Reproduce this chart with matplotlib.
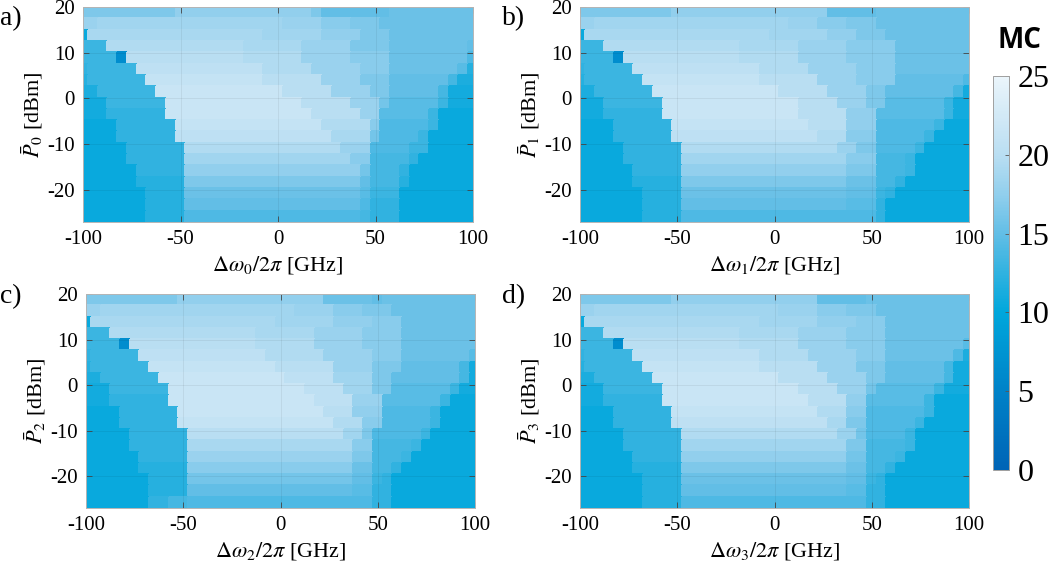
import numpy as np
import matplotlib
matplotlib.use("Agg")
import matplotlib.pyplot as plt
from matplotlib.colors import LinearSegmentedColormap

plt.rcParams['font.family'] = ['Liberation Serif', 'DejaVu Serif']
plt.rcParams['mathtext.fontset'] = 'stix'
plt.rcParams['axes.unicode_minus'] = False

# detuning (GHz) cell centres and power rows (top row = highest power)
detuning = np.arange(-100, 101, 5)
p_top, p_bottom = 20, -27
n_rows = 19

# each row: (start column, MC value) runs, top row first
mc_a = [
    [(0, 16.5), (10, 17.5), (24, 16.5), (25, 15), (32, 15.5)],
    [(0, 18), (2, 18.5), (21, 18), (25, 17), (28, 16.5), (31, 15.5)],
    [(0, 10.5), (1, 19), (19, 18.5), (25, 17.5), (29, 16.5), (32, 15.5)],
    [(0, 13), (3, 19.5), (17, 19), (23, 18), (28, 16.5), (32, 15.5), (40, 15)],
    [(0, 13), (4, 6.5), (5, 20), (17, 19.5), (23, 18), (28, 17), (32, 15.5), (40, 14)],
    [(0, 12.5), (1, 13), (6, 20.5), (19, 19.5), (24, 18), (29, 17), (32, 15.5), (39, 14.5), (40, 12)],
    [(0, 12), (1, 13), (7, 21), (19, 20), (25, 18), (29, 16.5), (32, 15), (38, 13.5), (39, 11.5)],
    [(0, 11.5), (2, 13), (8, 21.5), (21, 20), (26, 18), (30, 16.5), (32, 15), (37, 13.5), (38, 11)],
    [(0, 11), (3, 13), (9, 21.5), (23, 20), (28, 18), (31, 16), (32, 14.5), (37, 13), (38, 11)],
    [(0, 11), (3, 12.5), (9, 21.5), (24, 20), (29, 18), (31, 14.5), (36, 13), (37, 10.5)],
    [(0, 10.5), (4, 12.5), (10, 21), (25, 19.5), (30, 17), (31, 14), (36, 13), (37, 10.5)],
    [(0, 10.5), (4, 12.5), (10, 20.5), (26, 19), (30, 16), (31, 14), (35, 13), (36, 10.5)],
    [(0, 10.5), (5, 12.5), (11, 19.5), (27, 18), (30, 14), (34, 13), (36, 10.5)],
    [(0, 10.5), (5, 12.5), (11, 18.5), (28, 17), (30, 13.5), (34, 12.5), (35, 10.5)],
    [(0, 10.5), (6, 12.5), (11, 17.5), (29, 16), (30, 13.5), (33, 12.5), (34, 10.5)],
    [(0, 10.5), (6, 12), (11, 16.5), (29, 15), (30, 13.5), (33, 12), (34, 10.5)],
    [(0, 10.5), (7, 12), (11, 15.5), (29, 14.5), (30, 13), (33, 10.5)],
    [(0, 10.5), (7, 12), (11, 15), (29, 14), (30, 12.5), (33, 10.5)],
    [(0, 10.5), (7, 12), (11, 14), (29, 13.5), (30, 12.5), (33, 10.5)],
]

mc_b = [
    [(0, 16.5), (10, 17.5), (26, 15), (31, 15.5)],
    [(0, 18), (2, 18.5), (22, 18), (25, 17), (28, 16.5), (31, 15.5)],
    [(0, 10.5), (1, 19), (20, 18.5), (26, 17.5), (29, 16.5), (32, 15.5)],
    [(0, 13), (3, 19.5), (17, 19), (23, 18), (28, 17), (33, 15.5)],
    [(0, 13), (4, 6.5), (5, 20), (17, 19.5), (23, 18), (28, 17), (33, 15.5)],
    [(0, 12.5), (1, 13), (6, 20.5), (19, 19.5), (24, 18), (29, 17), (33, 15.5)],
    [(0, 12), (1, 13), (7, 21), (19, 20), (25, 18), (29, 17), (33, 15), (40, 14)],
    [(0, 11.5), (2, 13), (8, 21.5), (21, 20), (26, 18), (30, 16.5), (32, 15), (39, 13.5), (40, 11)],
    [(0, 11), (3, 13), (9, 21.5), (23, 20), (27, 18), (30, 16.5), (32, 14.5), (38, 13), (39, 11)],
    [(0, 11), (3, 12.5), (9, 21.5), (23, 20), (28, 17.5), (31, 14.5), (38, 13), (39, 11)],
    [(0, 10.5), (4, 12.5), (10, 21), (24, 20), (28, 17.5), (31, 14), (37, 13), (38, 10.5)],
    [(0, 10.5), (4, 12.5), (10, 20.5), (25, 19.5), (28, 17), (31, 14), (36, 13), (37, 10.5)],
    [(0, 10.5), (5, 12.5), (11, 19.5), (27, 18), (29, 16.5), (31, 14), (35, 13), (36, 10.5)],
    [(0, 10.5), (5, 12.5), (11, 18.5), (28, 17), (31, 13.5), (34, 13), (35, 10.5)],
    [(0, 10.5), (6, 12.5), (11, 17.5), (28, 16.5), (31, 13.5), (34, 13), (35, 10.5)],
    [(0, 10.5), (6, 12), (11, 16.5), (28, 15.5), (31, 13.5), (33, 12.5), (34, 10.5)],
    [(0, 10.5), (7, 12), (11, 15.5), (28, 15), (31, 13), (32, 12.5), (33, 10.5)],
    [(0, 10.5), (7, 12), (11, 15), (28, 14.5), (31, 12.5), (32, 10.5)],
    [(0, 10.5), (7, 12), (11, 14), (28, 14), (31, 12.5), (32, 10.5)],
]

mc_c = [
    [(0, 16.5), (10, 17.5), (25, 15.5), (30, 15), (31, 15.5)],
    [(0, 18), (2, 18.5), (22, 18), (26, 17), (29, 16.5), (32, 15.5)],
    [(0, 10.5), (1, 19), (20, 18.5), (26, 17.5), (30, 17), (33, 15.5)],
    [(0, 13), (3, 19.5), (18, 19), (24, 18), (29, 17), (33, 15.5)],
    [(0, 13), (4, 6.5), (5, 20), (18, 19.5), (24, 18), (29, 17), (33, 15.5)],
    [(0, 12.5), (1, 13), (6, 20.5), (19, 19.5), (25, 18), (30, 17), (33, 15.5), (40, 14.5)],
    [(0, 12), (1, 13), (7, 21), (20, 20), (26, 18), (30, 16.5), (33, 15), (39, 13.5), (40, 11)],
    [(0, 11.5), (2, 13), (8, 21.5), (21, 20.5), (26, 18.5), (30, 16.5), (32, 15), (39, 13.5), (40, 11)],
    [(0, 11), (3, 13), (9, 21.5), (23, 20.5), (27, 18.5), (30, 16.5), (32, 14.5), (38, 13), (39, 11)],
    [(0, 11), (3, 12.5), (9, 21.5), (24, 20.5), (28, 18), (31, 14.5), (37, 13), (38, 10.5)],
    [(0, 10.5), (4, 12.5), (10, 21.5), (25, 20), (28, 17.5), (31, 14), (36, 13), (37, 10.5)],
    [(0, 10.5), (4, 12.5), (10, 21), (26, 19.5), (29, 17), (31, 14), (36, 13), (37, 10.5)],
    [(0, 10.5), (5, 12.5), (11, 20), (27, 18.5), (29, 16.5), (30, 14), (35, 13), (36, 10.5)],
    [(0, 10.5), (5, 12.5), (11, 19), (28, 17), (30, 13.5), (34, 13), (35, 10.5)],
    [(0, 10.5), (6, 12.5), (11, 18), (28, 16.5), (30, 13.5), (33, 13), (34, 10.5)],
    [(0, 10.5), (6, 12), (11, 17), (28, 15.5), (30, 13.5), (32, 12.5), (33, 10.5)],
    [(0, 10.5), (7, 12), (11, 16), (28, 15), (30, 13), (31, 12.5), (32, 10.5)],
    [(0, 10.5), (7, 12), (11, 15), (28, 14.5), (30, 12.5), (32, 10.5)],
    [(0, 10.5), (7, 12.5), (9, 13.5), (11, 14), (28, 14), (30, 12.5), (32, 10.5)],
]

mc_d = [
    [(0, 16.5), (10, 17.5), (25, 15), (30, 15.5)],
    [(0, 18), (2, 18.5), (21, 18), (25, 17), (28, 16.5), (31, 15.5)],
    [(0, 10.5), (1, 19), (19, 18.5), (25, 17.5), (29, 17), (32, 15.5)],
    [(0, 13), (3, 19.5), (17, 19), (23, 18), (28, 17), (32, 15.5)],
    [(0, 13), (4, 6.5), (5, 20), (17, 19.5), (23, 18), (28, 17), (32, 15.5), (40, 14.5)],
    [(0, 12.5), (1, 13), (6, 20.5), (19, 19.5), (24, 18), (29, 17), (32, 15.5), (39, 14), (40, 11.5)],
    [(0, 12), (1, 13), (7, 21), (19, 20), (25, 18), (29, 16.5), (32, 15), (38, 13.5), (39, 11)],
    [(0, 11.5), (2, 13), (8, 21.5), (21, 20), (26, 18), (30, 16.5), (32, 15), (38, 13.5), (39, 11)],
    [(0, 11), (3, 13), (9, 21.5), (23, 20), (27, 18), (30, 16), (31, 14.5), (37, 13), (38, 11)],
    [(0, 11), (3, 12.5), (9, 21.5), (24, 20), (28, 17.5), (30, 14.5), (36, 13), (37, 10.5)],
    [(0, 10.5), (4, 12.5), (10, 21), (25, 19.5), (28, 17), (30, 14), (36, 13), (37, 10.5)],
    [(0, 10.5), (4, 12.5), (10, 20.5), (26, 19), (28, 16.5), (30, 14), (35, 13), (36, 10.5)],
    [(0, 10.5), (5, 12.5), (11, 19.5), (27, 18), (29, 16), (30, 14), (34, 13), (35, 10.5)],
    [(0, 10.5), (5, 12.5), (11, 18.5), (28, 16.5), (30, 13.5), (34, 13), (35, 10.5)],
    [(0, 10.5), (6, 12.5), (11, 17.5), (28, 16), (30, 13.5), (33, 13), (34, 10.5)],
    [(0, 10.5), (6, 12), (11, 16.5), (28, 15.5), (30, 13.5), (32, 12.5), (33, 10.5)],
    [(0, 10.5), (7, 12), (11, 15.5), (28, 15), (30, 13), (31, 12.5), (32, 10.5)],
    [(0, 10.5), (7, 12), (11, 15), (28, 14.5), (30, 12.5), (32, 10.5)],
    [(0, 10.5), (7, 12), (11, 14), (28, 14), (30, 12.5), (32, 10.5)],
]

panel_tags = ['a)', 'b)', 'c)', 'd)']
panel_idx = ['0', '1', '2', '3']


def expand(runs):
    # turn (start column, value) runs into a full grid
    grid = np.zeros((len(runs), len(detuning)))
    for i, row in enumerate(runs):
        for k, (start, val) in enumerate(row):
            stop = row[k + 1][0] if k + 1 < len(row) else len(detuning)
            grid[i, start:stop] = val
    return grid


# colour scale (value -> rgb)
cb_stops = [0, 5, 10, 12.5, 15, 17.5, 20, 22.5, 25]
cb_rgb = [(0, 100, 182), (0, 130, 200), (0, 167, 220), (48, 178, 224),
          (98, 190, 230), (145, 207, 237), (185, 222, 242), (210, 233, 246),
          (235, 245, 251)]
cmap = LinearSegmentedColormap.from_list(
    'mc', [(s / 25, tuple(c / 255 for c in rgb)) for s, rgb in zip(cb_stops, cb_rgb)])

W, H = 1052, 564
fig = plt.figure(figsize=(W / 100, H / 100), dpi=100)

# axes boxes in pixels: left, top, right, bottom
boxes = [(83, 7, 473, 222), (580, 7, 969, 222),
         (86, 294, 475, 508), (580, 294, 969, 508)]
# panel tag positions in pixels (left, centre y)
tag_pos = [(0, 19), (502, 19), (0, 297), (502, 297)]

x_edges = np.concatenate([detuning - 2.5, [detuning[-1] + 2.5]])
y_edges = np.linspace(p_top, p_bottom, n_rows + 1)

for k, runs in enumerate([mc_a, mc_b, mc_c, mc_d]):
    l, t, r, b = boxes[k]
    ax = fig.add_axes([l / W, 1 - b / H, (r - l) / W, (b - t) / H])
    mesh = ax.pcolormesh(x_edges, y_edges, expand(runs), cmap=cmap, vmin=0, vmax=25,
                         shading='flat', edgecolors='face', linewidth=0.1)
    ax.set_xlim(-100, 100)
    ax.set_ylim(p_bottom, p_top)
    ax.set_xticks([-100, -50, 0, 50, 100])
    ax.set_yticks([-20, -10, 0, 10, 20])
    ax.grid(True, color='k', alpha=0.07, lw=0.6)
    ax.tick_params(direction='in', top=True, right=True, length=4, width=0.6,
                   color='#444444', labelsize=15, pad=6)
    for sp in ax.spines.values():
        sp.set_color('#b5b5b5')
        sp.set_linewidth(0.7)
    n = panel_idx[k]
    ax.set_xlabel(r'$\Delta\omega_%s/2\pi$ [GHz]' % n, fontsize=16, labelpad=3)
    ax.set_ylabel(r'$\bar{P}_%s$ [dBm]' % n, fontsize=16)
    ax.yaxis.set_label_coords(-0.098, 0.5)
    tx, ty = tag_pos[k]
    fig.text(tx / W, 1 - ty / H, panel_tags[k], fontsize=20, va='center', ha='left')

# colour bar
cax = fig.add_axes([993 / W, 1 - 470 / H, 16 / W, 394 / H])
cb = fig.colorbar(mesh, cax=cax, ticks=[0, 5, 10, 15, 20, 25])
cb.outline.set_edgecolor('#a0a0a0')
cb.outline.set_linewidth(0.7)
cax.tick_params(direction='in', length=3, width=0.6, color='#555555', labelsize=23, pad=6)
fig.text(1020 / W, 1 - 40 / H, 'MC', fontsize=20, fontweight='bold',
         family='Open Sans', ha='center', va='center')

fig.savefig('out.png', dpi=100)
